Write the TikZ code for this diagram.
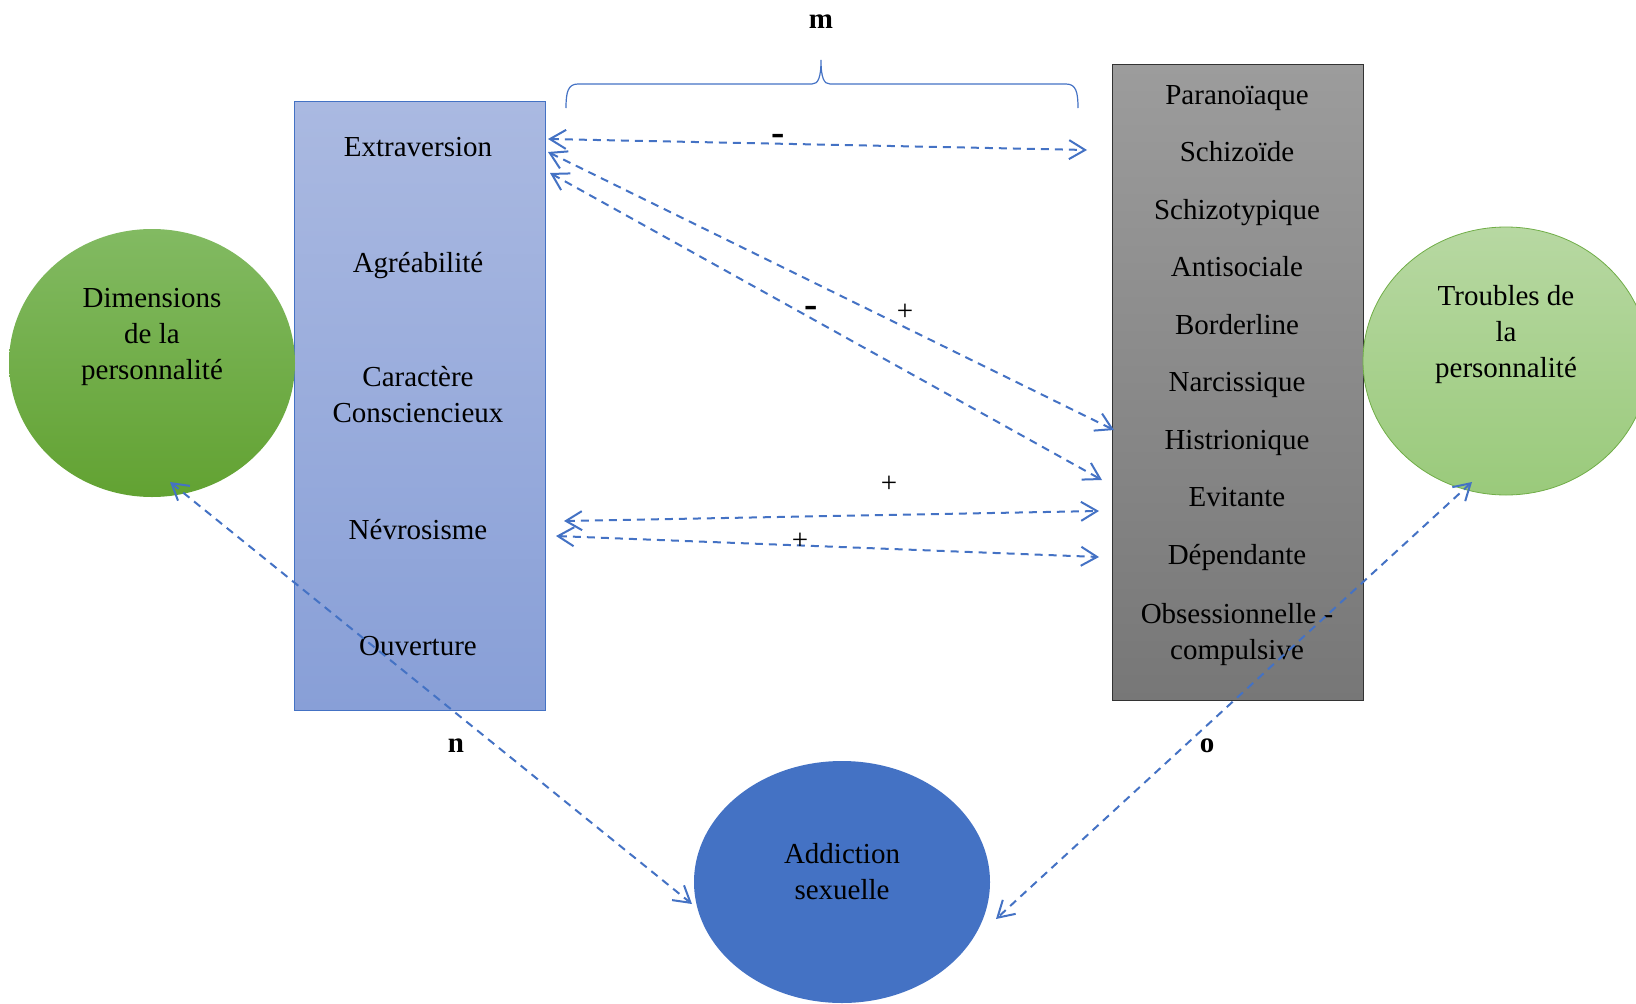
\documentclass[tikz,border=0pt]{standalone}
\usepackage{fontspec}
\setmainfont{Liberation Serif}
\usetikzlibrary{arrows.meta,shapes.geometric}
\definecolor{accblue}{HTML}{4472C4}
\definecolor{dimtop}{HTML}{AAB9E1}
\definecolor{dimbot}{HTML}{889FD7}
\definecolor{graytop}{HTML}{9C9C9C}
\definecolor{graybot}{HTML}{777777}
\definecolor{greentop}{HTML}{82BA62}
\definecolor{greenbot}{HTML}{62A232}
\definecolor{lgreentop}{HTML}{B7D8A2}
\definecolor{lgreenbot}{HTML}{9ACA7B}
\definecolor{lgreenline}{HTML}{70AD47}
\begin{document}
\begin{tikzpicture}[x=1pt,y=-1pt,
  lbl/.style={font=\fontsize{29}{36}\selectfont, align=center, text=black, inner sep=0pt},
  word/.style={font=\fontsize{29}{36}\selectfont, text=black, inner sep=0pt, anchor=base},
  sign/.style={font=\fontsize{29}{36}\selectfont, text=black, inner sep=0pt},
  minus/.style={font=\fontsize{40}{44}\selectfont\bfseries, text=black, inner sep=0pt},
  boldsign/.style={font=\fontsize{29}{36}\selectfont\bfseries, text=black, inner sep=0pt},
  link/.style={draw=accblue, line width=2pt, dash pattern=on 8pt off 6pt,
    {Straight Barb[length=16pt,width=19pt,line width=2pt]}-{Straight Barb[length=16pt,width=19pt,line width=2pt]}},
]
\useasboundingbox (0,0) rectangle (1636,1004);
\clip (0,0) rectangle (1636,1004);

% boxes and circles
\node[draw=accblue, line width=1pt, top color=dimtop, bottom color=dimbot,
  minimum width=251pt, minimum height=609pt, anchor=north west, inner sep=0pt] (bigfive) at (294,101) {};
\node[draw=black!80, line width=1.2pt, top color=graytop, bottom color=graybot,
  minimum width=251pt, minimum height=636pt, anchor=north west, inner sep=0pt] (troubles) at (1112,64) {};
\node[ellipse, top color=greentop, bottom color=greenbot, minimum width=286pt, minimum height=268pt, inner sep=0pt] (dimcirc) at (152,363) {};
\node[ellipse, draw=lgreenline, line width=0.8pt, top color=lgreentop, bottom color=lgreenbot, minimum width=286pt, minimum height=268pt, inner sep=0pt] (tpcirc) at (1506,361) {};
\node[ellipse, fill=accblue, minimum width=296pt, minimum height=242pt, inner sep=0pt] (addic) at (842,882) {};

% texts in circles
\node[lbl] (dimtxt) at (152,337) {Dimensions\\de la\\personnalité};
\node[lbl] (tptxt) at (1506,335) {Troubles de\\la\\personnalité};
\node[lbl] (addtxt) at (842,872) {Addiction\\sexuelle};

% big five
\node[word] (extra) at (418,156) {Extraversion};
\node[word] (agree) at (418,272) {Agréabilité};
\node[lbl] (consc) at (418,395) {Caractère\\Consciencieux};
\node[word] (nevro) at (418,539) {Névrosisme};
\node[word] (ouver) at (418,655) {Ouverture};

% troubles
\node[word] (parano) at (1237,104) {Paranoïaque};
\node[word] (schizoid) at (1237,161.5) {Schizoïde};
\node[word] (schizotyp) at (1237,219) {Schizotypique};
\node[word] (antisoc) at (1237,276.5) {Antisociale};
\node[word] (border) at (1237,334) {Borderline};
\node[word] (narc) at (1237,391.5) {Narcissique};
\node[word] (hist) at (1237,449) {Histrionique};
\node[word] (evit) at (1237,506.5) {Evitante};
\node[word] (depend) at (1237,564) {Dépendante};
\node[lbl] (obsess) at (1237,635) {Obsessionnelle -\\compulsive};

% connector end points
\coordinate (e1) at (548,139);
\coordinate (t1) at (1087,150);
\coordinate (e2) at (548,152);
\coordinate (t2) at (1114,430);
\coordinate (e3) at (550,173);
\coordinate (t3) at (1102,480);
\coordinate (n1) at (564,521);
\coordinate (u1) at (1099,511);
\coordinate (n2) at (556,536);
\coordinate (u2) at (1099,557);
\coordinate (dimend) at (170,482);
\coordinate (addl) at (692,904);
\coordinate (tpend) at (1472,482);
\coordinate (addr) at (996,919);

\draw[link] (e1) -- (t1);
\draw[link] (e2) -- (t2);
\draw[link] (e3) -- (t3);
\draw[link] (n1) -- (u1);
\draw[link] (n2) -- (u2);
\draw[link] (dimend) -- (addl);
\draw[link] (tpend) -- (addr);

% signs
\node[minus] (s1) at (778,140) {-};
\node[minus] (s2) at (811,312) {-};
\node[sign] (s3) at (905,312) {+};
\node[sign] (s4) at (889,484) {+};
\node[sign] (s5) at (800,541) {+};

% brace
\draw[accblue, line width=1.2pt] (566,108) .. controls (566,92) and (568,84) .. (578,84)
  -- (812,84) .. controls (818,84) and (821,78) .. (821,60)
  .. controls (821,78) and (824,84) .. (830,84) -- (1066,84)
  .. controls (1076,84) and (1078,92) .. (1078,108);

% letters
\node[boldsign] (mlab) at (821,22) {m};
\node[boldsign] (nlab) at (456,746) {n};
\node[boldsign] (olab) at (1207,746) {o};
\end{tikzpicture}
\end{document}
